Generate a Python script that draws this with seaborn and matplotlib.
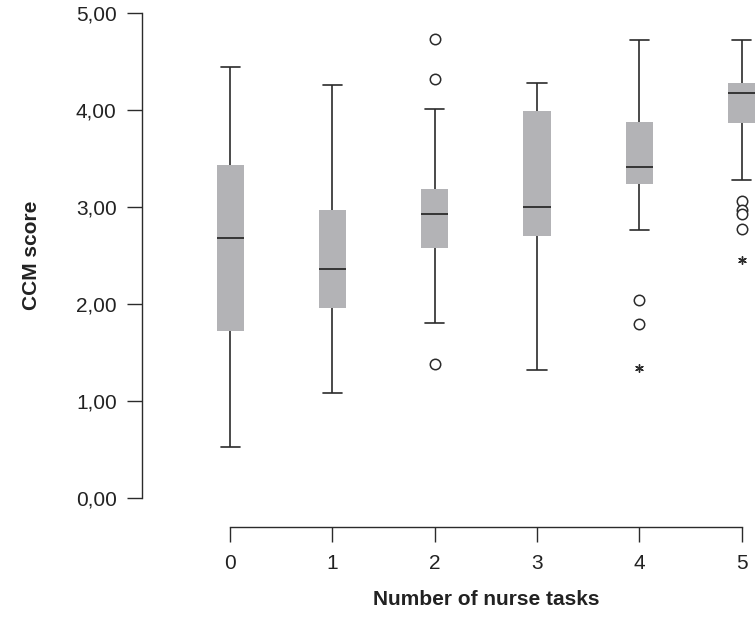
import numpy as np
import pandas as pd
import matplotlib
matplotlib.use("Agg")
import matplotlib.pyplot as plt
import seaborn as sns

# ---- data ----
categories = [0, 1, 2, 3, 4, 5]
whisker_low = [0.52, 1.08, 1.80, 1.32, 2.76, 3.28]
q1 = [1.72, 1.96, 2.58, 2.70, 3.24, 3.86]
median = [2.68, 2.36, 2.93, 3.00, 3.41, 4.17]
q3 = [3.43, 2.97, 3.18, 3.99, 3.87, 4.28]
whisker_high = [4.44, 4.26, 4.01, 4.28, 4.72, 4.72]
outlier_x = [2, 2, 2, 4, 4, 5, 5, 5, 5]
outlier_y = [4.73, 4.32, 1.38, 2.04, 1.79, 3.06, 2.97, 2.93, 2.77]
extreme_x = [4, 5]
extreme_y = [1.34, 2.45]
ytick_values = [0, 1, 2, 3, 4, 5]
ytick_labels = ["0,00", "1,00", "2,00", "3,00", "4,00", "5,00"]
xtick_labels = ["0", "1", "2", "3", "4", "5"]

rows = []
for i, c in enumerate(categories):
    for v in (whisker_low[i], q1[i], median[i], q3[i], whisker_high[i]):
        rows.append({"tasks": c, "score": v})
df = pd.DataFrame(rows)
df_out = pd.DataFrame({"tasks": outlier_x, "score": outlier_y})
df_ext = pd.DataFrame({"tasks": extreme_x, "score": extreme_y})

sns.set_style("ticks")
plt.rcParams["font.family"] = ["Liberation Sans", "DejaVu Sans"]

DARK = "#2b2b2b"
FILL = "#b2b3b7"

fig = plt.figure(figsize=(7.56, 6.18), dpi=100)
ax = fig.add_axes([0.1874, 0.1479, 0.8124, 0.839])

sns.boxplot(data=df, x="tasks", y="score", order=categories, whis=np.inf,
            width=0.265, color=FILL, linecolor=DARK, linewidth=1.2,
            fliersize=0, capwidths=0.19,
            boxprops=dict(edgecolor=FILL, linewidth=0),
            medianprops=dict(color=DARK, linewidth=1.3),
            whiskerprops=dict(color=DARK, linewidth=1.2),
            capprops=dict(color=DARK, linewidth=1.2), ax=ax)

sns.stripplot(data=df_out, x="tasks", y="score", order=categories, jitter=False,
              color="white", edgecolor=DARK, linewidth=1.1, size=7.5,
              marker="o", ax=ax, zorder=5)
sns.stripplot(data=df_ext, x="tasks", y="score", order=categories, jitter=False,
              color=DARK, linewidth=1.0, size=5.5, marker=(6, 2, 0), ax=ax, zorder=5)

ax.set_xlim(-0.866, 5.14)
ax.set_ylim(-0.298, 5.05)
ax.set_yticks(ytick_values)
ax.set_yticklabels(ytick_labels)
ax.set_xticks(range(len(categories)))
ax.set_xticklabels(xtick_labels)

for s in ("top", "right"):
    ax.spines[s].set_visible(False)
ax.spines["left"].set_bounds(0, 5)
ax.spines["bottom"].set_bounds(0, 5)
for s in ("left", "bottom"):
    ax.spines[s].set_color(DARK)
    ax.spines[s].set_linewidth(1.0)

ax.tick_params(axis="y", length=10.5, width=1.0, color=DARK, pad=7.5,
               labelsize=15, labelcolor="#222222")
ax.tick_params(axis="x", length=10.5, width=1.0, color=DARK, pad=9,
               labelsize=15, labelcolor="#222222")

ax.set_xlabel("Number of nurse tasks", fontsize=15, fontweight="bold", color="#222222")
ax.set_ylabel("CCM score", fontsize=15, fontweight="bold", color="#222222")
ax.xaxis.set_label_coords(0.5604, -0.123)
ax.yaxis.set_label_coords(-0.1644, 0.5227)
ax.grid(False)

fig.savefig("out.png", dpi=100)
